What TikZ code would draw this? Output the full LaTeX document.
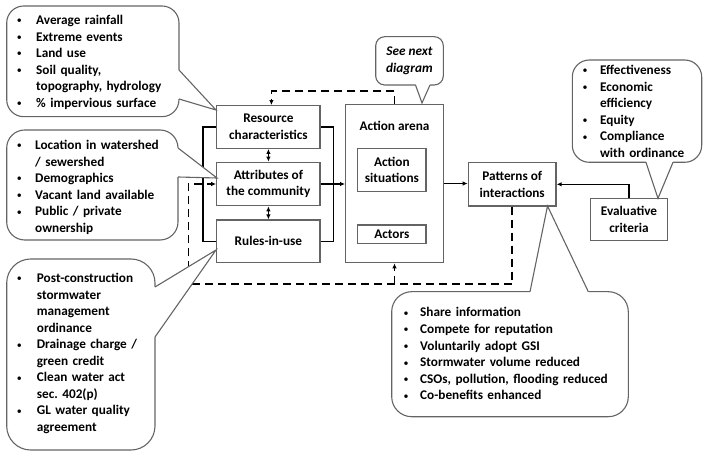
\documentclass[tikz,border=0pt]{standalone}
\usepackage{fontspec}
\setmainfont{Carlito}
\usetikzlibrary{arrows.meta,calc}
\definecolor{bgray}{RGB}{100,100,100}
\frenchspacing
\newlength\bulletind
\newcommand\bitem[1]{\noindent\hangindent=\bulletind\hangafter=1\makebox[\bulletind][l]{\raisebox{0.6bp}{\fontsize{10}{10}\mdseries\textbullet}}#1\par}
\begin{document}
\begin{tikzpicture}[x=1bp,y=-1bp,
  >={Latex[length=5bp,width=4.5bp]},
  txt/.style={font=\bfseries\fontsize{13.3}{16.6}\selectfont},
  box/.style={txt, draw=bgray, line width=1.3bp, fill=white, inner sep=0pt, align=center},
  lbl/.style={txt, inner sep=0pt, align=center},
  conn/.style={black, line width=1.3bp},
  dconn/.style={black, line width=1.5bp, dash pattern=on 8bp off 5bp},
  callout/.style={draw=bgray, line width=1.1bp, fill=white},
  pline/.style={draw=bgray, line width=1.1bp, line join=miter},
  listnode/.style={txt, anchor=base west, inner sep=0pt, text width=240bp, align=left}]
\useasboundingbox (0,0) rectangle (707,457);

% boxes
\node[box, minimum width=103.3bp, minimum height=42.6bp] (res) at (268.4,127) {Resource\\characteristics};
\node[box, minimum width=103.3bp, minimum height=43.4bp] (attr) at (268.4,184) {Attributes of\\the community};
\node[box, minimum width=103.3bp, minimum height=42.7bp] (rules) at (268.4,241.4) {Rules-in-use};
\node[box, minimum width=97.6bp, minimum height=158.4bp] (arena) at (394.5,183.5) {};
\node[lbl] (arenalbl) at (394.5,126) {Action arena};
\node[box, minimum width=68.3bp, minimum height=43.4bp] (sit) at (391.9,170) {Action\\situations};
\node[box, minimum width=68.3bp, minimum height=18.3bp] (act) at (391.9,234.2) {Actors};
\node[box, minimum width=87.7bp, minimum height=43.3bp] (pat) at (512.2,184.3) {Patterns of\\interactions};
\node[box, minimum width=76.6bp, minimum height=42.4bp] (eval) at (629,219.5) {Evaluative\\criteria};

% connectors
\draw[conn] (res.west) -- ++(-13,0) |- (rules.west);
\draw[conn] (res.east) -- ++(13,0) |- (rules.east);
\draw[conn,->] (attr.east) -- (attr.east -| arena.west);
\draw[conn,<->] (res.south) -- (attr.north);
\draw[conn,<->] (attr.south) -- (rules.north);
\draw[conn,->] (arena.east) -- (arena.east -| pat.west);
\draw[conn,->] (eval.north) |- (pat.east);
\draw[dconn,->] (arena.north) -- ++(0,-12.5) -| ($(res.north)+(3,0)$);
\coordinate (dl) at (188.3,284);
\draw[dconn,->] (pat.south) |- (dl) |- (attr.west);
\draw[dconn,->] (arena.south |- dl) -- (arena.south);

% callout 1
\filldraw[callout, rounded corners=17bp] (6.7,6) rectangle (179,116.7);
\fill[white] (177.5,70) -- (179,70) -- (216,110) -- (179,99) -- (177.5,99) -- cycle;
\draw[pline] (179,70) -- (216,110) -- (179,99);
% callout 2
\filldraw[callout, rounded corners=18bp] (6.7,130) rectangle (178,240);
\fill[white] (176.5,148) -- (178,148) -- (217,178) -- (178,177) -- (176.5,177) -- cycle;
\draw[pline] (178,148) -- (217,178) -- (178,177);
% callout 3
\filldraw[callout, rounded corners=24bp] (6.7,259) rectangle (155,450);
\fill[white] (153.5,287) -- (155,287) -- (216,250) -- (155,337) -- (153.5,337) -- cycle;
\draw[pline] (155,287) -- (216,250) -- (155,337);
% callout evaluative
\filldraw[callout, rounded corners=17bp] (572.3,60) rectangle (701.7,162.3);
\fill[white] (646,160.8) -- (646,162.3) -- (658,198.3) -- (673,162.3) -- (673,160.8) -- cycle;
\draw[pline] (646,162.3) -- (658,198.3) -- (673,162.3);
% callout patterns
\filldraw[callout, rounded corners=20bp] (391.7,291.7) rectangle (628.3,416.7);
\fill[white] (530,293.2) -- (530,291.7) -- (547.5,206) -- (588.3,291.7) -- (588.3,293.2) -- cycle;
\draw[pline] (530,291.7) -- (547.5,206) -- (588.3,291.7);
% callout see next
\filldraw[callout, rounded corners=9bp] (375.7,36.7) rectangle (443.3,85);
\fill[white] (415.5,83.5) -- (415.5,85) -- (422,103) -- (430,85) -- (430,83.5) -- cycle;
\draw[pline] (415.5,85) -- (422,103) -- (430,85);

% callout texts
\node[lbl, font=\bfseries\itshape\fontsize{13.3}{16.6}\selectfont] (sn) at (409.5,61) {See next\\diagram};
\node[listnode] (c1) at (16.7,24.5) {\setlength\bulletind{19.3bp}%
\bitem{Average rainfall}\bitem{Extreme events}\bitem{Land use}%
\bitem{Soil quality,\newline topography, hydrology}\bitem{\% impervious surface}};
\node[listnode] (c2) at (16.7,149.5) {\setlength\bulletind{18.3bp}%
\bitem{Location in watershed\newline / sewershed}\bitem{Demographics}%
\bitem{Vacant land available}\bitem{Public / private\newline ownership}};
\node[listnode] (c3) at (16.7,282.5) {\setlength\bulletind{20bp}%
\bitem{Post-construction\newline stormwater\newline management\newline ordinance}%
\bitem{Drainage charge /\newline green credit}\bitem{Clean water act\newline sec. 402(p)}%
\bitem{GL water quality\newline agreement}};
\node[listnode] (c4) at (582.3,74.5) {\setlength\bulletind{17.6bp}%
\bitem{Effectiveness}\bitem{Economic\newline efficiency}\bitem{Equity}%
\bitem{Compliance\newline with ordinance}};
\node[listnode] (c5) at (403.4,317) {\setlength\bulletind{16.6bp}%
\bitem{Share information}\bitem{Compete for reputation}\bitem{Voluntarily adopt GSI}%
\bitem{Stormwater volume reduced}\bitem{CSOs, pollution, flooding reduced}%
\bitem{Co-benefits enhanced}};
\end{tikzpicture}
\end{document}
